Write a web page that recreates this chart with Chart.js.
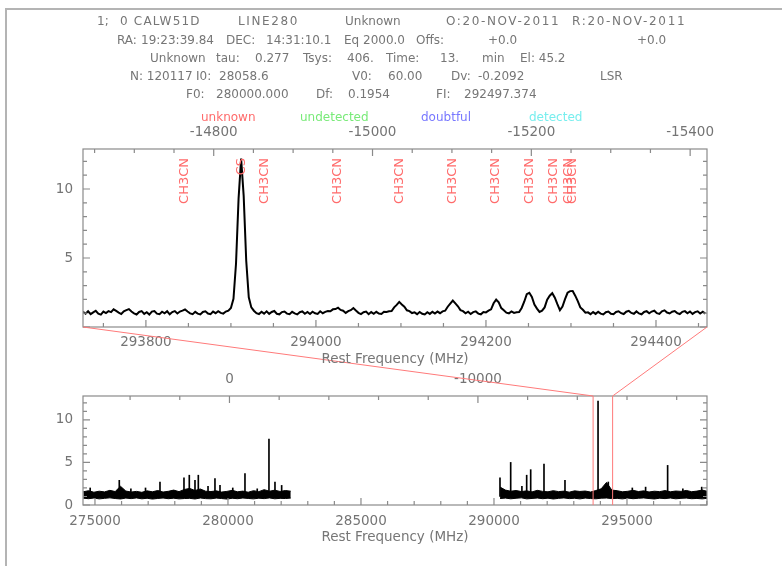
<!DOCTYPE html>
<html>
<head>
<meta charset="utf-8">
<title>CALW51D LINE280</title>
<script src="https://cdn.jsdelivr.net/npm/chart.js@4.4.1/dist/chart.umd.min.js"></script>
<style>
  body { margin: 0; background: #fff; }
  #page { position: relative; width: 782px; height: 566px; overflow: hidden; font-family: "DejaVu Sans", sans-serif; color: #767676; }
  #frame { position: absolute; left: 5px; top: 8px; right: -10px; bottom: -10px; border-top: 2px solid #b4b4b4; border-left: 2px solid #b4b4b4; }
  .t { position: absolute; font-size: 12px; line-height: 14px; white-space: pre; transform: translateY(-50%); }
  .axtitle { position: absolute; font-size: 13.5px; line-height: 16px; white-space: pre; transform: translate(-50%, -50%); }
  canvas { position: absolute; left: 0; }
</style>
</head>
<body>
<div id="page">
  <div id="frame"></div>
  <canvas id="topChart" width="782" height="375" style="top:0px"></canvas>
  <canvas id="bottomChart" width="782" height="206" style="top:360px"></canvas>
  <canvas id="zoomLines" width="782" height="566" style="top:0px"></canvas>
</div>
<script>
// header of the CLASS spectrum
var F0 = 280000.000, V0 = 60.00, Df = 0.1954, Dv = -0.2092;

// zoomed panel: channels every 3 MHz from topStart
var topStart = 293726, topStep = 3, topEnd = 294460;
var topInt = [
  1.10, 0.96, 1.14, 0.93, 1.06, 1.18, 0.97, 0.90, 1.12, 1.01,
  1.15, 1.08, 1.28, 1.17, 1.04, 0.94, 1.13, 1.22, 1.30, 1.12,
  0.99, 0.91, 1.09, 1.15, 0.95, 1.07, 0.90, 1.12, 1.16, 0.97,
  0.93, 1.11, 0.99, 1.14, 0.92, 1.08, 1.15, 0.98, 1.12, 1.19,
  1.27, 1.12, 0.99, 0.93, 1.10, 0.97, 0.91, 1.09, 1.14, 0.98,
  0.93, 1.12, 1.00, 1.15, 1.02, 0.97, 1.12, 1.19, 1.38, 2.05,
  4.60, 9.30, 12.20, 9.50, 4.80, 2.15, 1.42, 1.18, 1.00, 0.94,
  1.11, 0.97, 1.14, 0.95, 1.09, 1.16, 0.96, 0.92, 1.08, 1.12,
  0.97, 0.93, 1.10, 0.99, 0.91, 1.07, 1.13, 0.96, 1.09, 0.94,
  1.11, 0.99, 0.95, 1.14, 1.00, 1.10, 1.16, 1.14, 1.28, 1.30,
  1.40, 1.24, 1.18, 1.02, 1.15, 1.22, 1.37, 1.19, 1.03, 0.94,
  1.07, 1.12, 0.93, 1.08, 0.96, 1.10, 0.97, 0.95, 1.11, 1.09,
  1.14, 1.16, 1.42, 1.60, 1.82, 1.63, 1.47, 1.21, 1.15, 1.01,
  1.06, 0.93, 1.09, 0.96, 0.91, 1.07, 0.95, 1.10, 0.97, 1.12,
  1.00, 1.13, 1.18, 1.47, 1.70, 1.92, 1.71, 1.50, 1.22, 1.15,
  0.99, 1.11, 0.94, 1.08, 1.13, 0.97, 0.92, 1.09, 1.06, 1.18,
  1.28, 1.72, 1.98, 1.79, 1.37, 1.21, 1.04, 0.99, 1.13, 1.02,
  1.07, 1.09, 1.38, 1.83, 2.38, 2.48, 2.18, 1.62, 1.33, 1.09,
  1.18, 1.42, 1.98, 2.27, 2.45, 2.12, 1.65, 1.22, 1.48, 2.02,
  2.48, 2.60, 2.61, 2.27, 1.88, 1.42, 1.25, 1.04, 1.06, 0.93,
  1.08, 0.95, 1.10, 0.97, 0.91, 1.07, 1.12, 0.96, 0.93, 1.09,
  1.14, 1.00, 0.94, 1.11, 1.17, 1.02, 0.96, 1.13, 0.98, 0.92,
  1.09, 1.15, 0.99, 1.12, 1.18, 1.00, 0.95, 1.14, 1.21, 1.05,
  0.98, 1.11, 1.16, 1.01, 0.94, 1.10, 1.15, 0.99, 1.12, 0.95,
  1.08, 1.14, 0.98, 1.11, 0.97
];

// line identifications
var lineFreq = [293845.5, 293912.1, 293940.2, 294025.5, 294098.9, 294161.0, 294211.9, 294251.4, 294279.7, 294296.7, 294302.3];
var lineName = ['CH3CN', 'CS', 'CH3CN', 'CH3CN', 'CH3CN', 'CH3CN', 'CH3CN', 'CH3CN', 'CH3CN', 'CH3CN', 'CH3CN'];

// full band: noise envelope every 200 MHz, two segments
var fullMin = 274550, fullMax = 298008, bandStep = 200;
var band1Start = 274560;
var band1High = [1.55, 1.68, 1.50, 1.62, 1.54, 1.72, 1.58, 2.20, 1.64, 1.52,
  1.60, 1.49, 1.66, 1.55, 1.70, 1.52, 1.61, 1.75, 1.57, 1.82,
  1.95, 1.70, 1.88, 1.62, 1.58, 1.66, 1.52, 1.60, 1.72, 1.55,
  1.63, 1.50, 1.68, 1.57, 1.80, 1.62, 1.74, 1.59, 1.70, 1.62];
var band1Low = [0.80, 0.74, 0.82, 0.72, 0.78, 0.84, 0.76, 0.71, 0.81, 0.75,
  0.83, 0.73, 0.79, 0.70, 0.77, 0.82, 0.74, 0.80, 0.72, 0.76,
  0.78, 0.71, 0.82, 0.75, 0.73, 0.81, 0.76, 0.70, 0.79, 0.74,
  0.82, 0.77, 0.72, 0.80, 0.75, 0.83, 0.73, 0.78, 0.76, 0.81];
var band2Start = 290230;
var band2High = [2.10, 1.75, 1.62, 1.70, 1.58, 1.66, 1.54, 1.72, 1.60, 1.55,
  1.68, 1.57, 1.63, 1.51, 1.66, 1.59, 1.64, 1.52, 1.70, 1.90,
  2.65, 1.75, 1.68, 1.55, 1.61, 1.72, 1.58, 1.66, 1.53, 1.62,
  1.57, 1.69, 1.55, 1.64, 1.60, 1.71, 1.56, 1.63, 1.75, 1.60];
var band2Low = [0.76, 0.81, 0.73, 0.79, 0.84, 0.72, 0.77, 0.82, 0.74, 0.80,
  0.71, 0.78, 0.83, 0.75, 0.79, 0.72, 0.81, 0.76, 0.73, 0.80,
  0.82, 0.75, 0.78, 0.72, 0.81, 0.74, 0.79, 0.83, 0.76, 0.71,
  0.80, 0.75, 0.82, 0.73, 0.78, 0.81, 0.74, 0.77, 0.72, 0.79];

// narrow lines sticking out of the noise
var spikeFreq = [274820, 275914, 276350, 276900, 277444, 278346, 278546, 278760, 278885, 279250, 279511, 279700, 280180, 280639, 281100, 281541,
  281767, 282018, 290226, 290628, 291050, 291229, 291380, 291880, 292669, 293912, 294297, 295200, 295700, 296528, 297100, 297809];
var spikeTop = [2.0, 2.9, 1.9, 2.0, 2.7, 3.2, 3.5, 2.9, 3.5, 2.2, 3.1, 2.3, 2.0, 3.7, 1.9, 7.75,
  2.7, 2.3, 3.2, 5.0, 2.2, 3.5, 4.15, 4.8, 2.9, 12.2, 2.7, 2.0, 2.1, 4.65, 1.9, 2.1];
var spikeBase = 1.0;

// text above the plots: [text, left, letter spacing]
var header = [
  [21, [['1;', 97, 0], ['0 CALW51D', 120, 1.2], ['LINE280', 238, 1.6], ['Unknown', 345, 0], ['O:20-NOV-2011', 446, 1.6], ['R:20-NOV-2011', 572, 1.7]]],
  [40, [['RA:', 117, 0], ['19:23:39.84', 141, 0], ['DEC:', 226, 0], ['14:31:10.1', 266, 0], ['Eq 2000.0', 344, 0], ['Offs:', 416, 0], ['+0.0', 488, 0], ['+0.0', 637, 0]]],
  [58, [['Unknown', 150, 0], ['tau:', 216, 0], ['0.277', 255, 0], ['Tsys:', 303, 0], ['406.', 347, 0], ['Time:', 386, 0], ['13.', 440, 0], ['min', 482, 0], ['El: 45.2', 520, 0]]],
  [76, [['N: 120117', 130, 0], ['I0:', 196, 0], ['28058.6', 219, 0], ['V0:', 352, 0], ['60.00', 388, 0], ['Dv:', 451, 0], ['-0.2092', 478, 0], ['LSR', 600, 0]]],
  [94, [['F0:', 186, 0], ['280000.000', 216, 0], ['Df:', 316, 0], ['0.1954', 348, 0], ['FI:', 436, 0], ['292497.374', 464, 0]]]
];
var legendNames = ['unknown', 'undetected', 'doubtful', 'detected'];
var legendColors = ['#ff6b6b', '#78ea78', '#7878ff', '#78eeee'];
var legendX = [201, 300, 421, 529];

function vel(f) {
  return V0 + (f - F0) * Dv / Df;
}

var page = document.getElementById('page');
function addText(cls, text, x, y, color, ls) {
  var d = document.createElement('div');
  d.className = cls;
  d.textContent = text;
  d.style.left = x + 'px';
  d.style.top = y + 'px';
  if (color) d.style.color = color;
  if (ls) d.style.letterSpacing = ls + 'px';
  page.appendChild(d);
}
header.forEach(function(row) {
  row[1].forEach(function(tok) { addText('t', tok[0], tok[1], row[0], null, tok[2]); });
});
legendNames.forEach(function(n, i) { addText('t', n, legendX[i], 117, legendColors[i]); });
addText('axtitle', 'Rest Frequency (MHz)', 395, 358);
addText('axtitle', 'Rest Frequency (MHz)', 395, 536);

var grey = '#747474';
var tickFont = { family: 'DejaVu Sans', size: 13.5 };

function stepsBetween(min, max, step) {
  var out = [];
  for (var t = Math.ceil(min / step) * step; t <= max; t += step) out.push(t);
  return out;
}
function isMajor(v, major) {
  var r = Math.abs(v % major);
  return r < 1e-6 || Math.abs(r - major) < 1e-6;
}
function fixedTicks(step) {
  return function(s) {
    s.ticks = stepsBetween(s.min, s.max, step).map(function(v) { return { value: v }; });
  };
}

// box around the plot and inward tick marks on all four sides
var frameTicks = {
  id: 'frameTicks',
  afterDatasetsDraw: function(chart, args, opts) {
    var a = chart.chartArea, ctx = chart.ctx;
    var x = chart.scales.x, v = chart.scales.x2, y = chart.scales.y;
    ctx.save();
    ctx.strokeStyle = '#8a8a8a';
    ctx.lineWidth = 1.2;
    ctx.strokeRect(a.left, a.top, a.right - a.left, a.bottom - a.top);
    ctx.beginPath();
    stepsBetween(x.min, x.max, opts.xMinor).forEach(function(f) {
      var px = x.getPixelForValue(f);
      ctx.moveTo(px, a.bottom);
      ctx.lineTo(px, a.bottom - (isMajor(f, opts.xMajor) ? 7 : 4));
    });
    stepsBetween(v.min, v.max, opts.vMinor).forEach(function(val) {
      var px = v.getPixelForValue(val);
      ctx.moveTo(px, a.top);
      ctx.lineTo(px, a.top + (isMajor(val, opts.vMajor) ? 7 : 4));
    });
    stepsBetween(y.min, y.max, 1).forEach(function(val) {
      var py = y.getPixelForValue(val);
      var len = isMajor(val, 5) ? 7 : 4;
      ctx.moveTo(a.left, py);
      ctx.lineTo(a.left + len, py);
      ctx.moveTo(a.right, py);
      ctx.lineTo(a.right - len, py);
    });
    ctx.stroke();
    ctx.restore();
  }
};

// rotated red names of the identified lines
var lineLabels = {
  id: 'lineLabels',
  afterDatasetsDraw: function(chart) {
    var a = chart.chartArea, ctx = chart.ctx, x = chart.scales.x;
    ctx.save();
    ctx.font = '13px "DejaVu Sans"';
    ctx.fillStyle = '#ff6b6b';
    ctx.textAlign = 'right';
    ctx.textBaseline = 'middle';
    lineFreq.forEach(function(f, i) {
      ctx.save();
      ctx.translate(x.getPixelForValue(f), a.top + 9);
      ctx.rotate(-Math.PI / 2);
      ctx.fillText(lineName[i], 0, 0);
      ctx.restore();
    });
    ctx.restore();
  }
};

function axes(xMin, xMax, xStep, vStep, yMax, topH, bottomH, xPad, hideZero) {
  return {
    x: {
      type: 'linear', position: 'bottom', min: xMin, max: xMax, offset: false,
      afterFit: function(s) { s.height = bottomH; },
      afterBuildTicks: fixedTicks(xStep),
      grid: { display: false, drawTicks: false, offset: false }, border: { display: false },
      ticks: { autoSkip: false, maxRotation: 0, padding: xPad, color: grey, font: tickFont,
        callback: function(v) { return String(v); } }
    },
    x2: {
      type: 'linear', position: 'top', reverse: true, min: vel(xMax), max: vel(xMin), offset: false,
      afterFit: function(s) { s.height = topH; },
      afterBuildTicks: fixedTicks(vStep),
      grid: { display: false, drawTicks: false }, border: { display: false },
      ticks: { autoSkip: false, maxRotation: 0, padding: 8, color: grey, font: tickFont,
        callback: function(v) { return String(v); } }
    },
    y: {
      type: 'linear', position: 'left', min: 0, max: yMax,
      afterFit: function(s) { s.width = 83; },
      afterBuildTicks: fixedTicks(5),
      grid: { display: false, drawTicks: false }, border: { display: false },
      ticks: { padding: 10, color: grey, font: tickFont,
        callback: function(v) { return (hideZero && v === 0) ? '' : String(v); } }
    }
  };
}

var topPoints = topInt.map(function(v, i) { return { x: topStart + i * topStep, y: v }; });

var topChart = new Chart(document.getElementById('topChart'), {
  type: 'line',
  data: {
    datasets: [{
      data: topPoints,
      xAxisID: 'x', yAxisID: 'y',
      borderColor: '#000000',
      borderWidth: 2,
      pointRadius: 0,
      tension: 0,
      fill: false
    }]
  },
  options: {
    responsive: false, animation: false, events: [],
    layout: { padding: { left: 0, right: 75, top: 0, bottom: 0 } },
    plugins: {
      legend: { display: false }, tooltip: { enabled: false },
      frameTicks: { xMinor: 50, xMajor: 200, vMinor: 50, vMajor: 200 }
    },
    scales: axes(topStart, topEnd, 200, 200, 12.9, 149, 48, 7, true)
  },
  plugins: [frameTicks, lineLabels]
});

function bandSet(start, vals, fill) {
  return {
    data: vals.map(function(v, i) { return { x: start + i * bandStep, y: v }; }),
    xAxisID: 'x', yAxisID: 'y',
    borderColor: '#000000', backgroundColor: '#000000',
    borderWidth: 1, pointRadius: 0, tension: 0,
    fill: fill
  };
}

var bottomChart = new Chart(document.getElementById('bottomChart'), {
  type: 'line',
  data: {
    datasets: [
      bandSet(band1Start, band1Low, false),
      bandSet(band1Start, band1High, '-1'),
      bandSet(band2Start, band2Low, false),
      bandSet(band2Start, band2High, '-1'),
      {
        type: 'bar',
        data: spikeFreq.map(function(f, i) { return { x: f, y: [spikeBase, spikeTop[i]] }; }),
        xAxisID: 'x', yAxisID: 'y',
        backgroundColor: '#000000',
        barThickness: 1,
        grouped: false
      }
    ]
  },
  options: {
    responsive: false, animation: false, events: [],
    layout: { padding: { left: 0, right: 75, top: 0, bottom: 0 } },
    plugins: {
      legend: { display: false }, tooltip: { enabled: false },
      frameTicks: { xMinor: 1000, xMajor: 5000, vMinor: 2000, vMajor: 10000 }
    },
    scales: axes(fullMin, fullMax, 5000, 10000, 12.8, 36, 61, 8, false)
  },
  plugins: [frameTicks]
});

// red lines joining the zoom window to the full band
var zc = document.getElementById('zoomLines').getContext('2d');
var bottomOffset = document.getElementById('bottomChart').offsetTop;
var tA = topChart.chartArea, bA = bottomChart.chartArea;
zc.strokeStyle = '#ff7a7a';
zc.lineWidth = 1;
[topStart, topEnd].forEach(function(f) {
  var xb = bottomChart.scales.x.getPixelForValue(f);
  zc.beginPath();
  zc.moveTo(topChart.scales.x.getPixelForValue(f), tA.bottom);
  zc.lineTo(xb, bA.top + bottomOffset);
  zc.lineTo(xb, bA.bottom + bottomOffset);
  zc.stroke();
});
</script>
</body>
</html>
